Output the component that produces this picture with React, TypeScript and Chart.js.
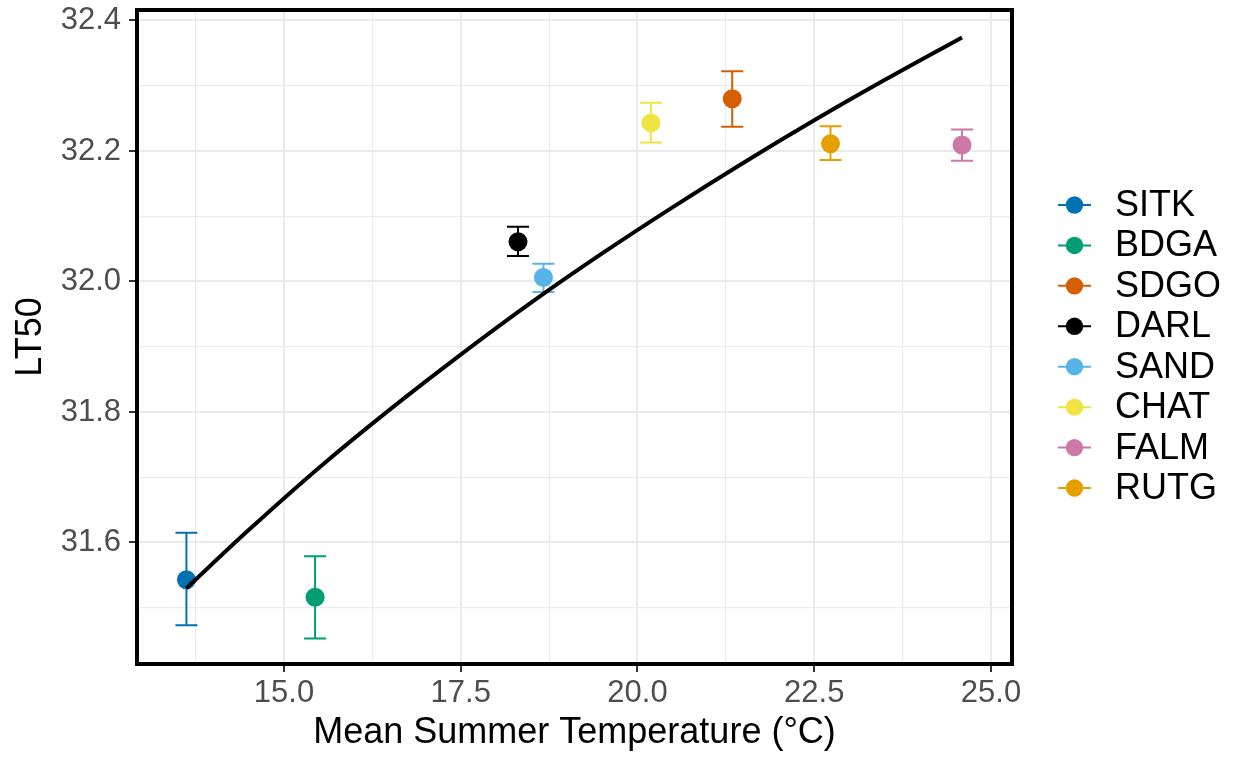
import React, { useEffect, useRef } from "react";
import { Chart, registerables } from "chart.js";

Chart.register(...registerables);

const stations = ["SITK", "BDGA", "SDGO", "DARL", "SAND", "CHAT", "FALM", "RUTG"];
const stationColors = ["#0072B2", "#009E73", "#D55E00", "#000000", "#56B4E9", "#F0E442", "#CC79A7", "#E69F00"];
const meanTemp = [13.62, 15.44, 21.34, 18.31, 18.67, 20.19, 24.59, 22.73];
const lt50 = [31.543, 31.516, 32.28, 32.061, 32.006, 32.243, 32.209, 32.211];
const lt50Low = [31.473, 31.453, 32.237, 32.039, 31.984, 32.213, 32.185, 32.186];
const lt50High = [31.615, 31.579, 32.322, 32.084, 32.027, 32.274, 32.233, 32.238];

const fitTemp = [13.62, 14.5, 15.5, 16.5, 17.5, 18.5, 19.5, 20.5, 21.5, 22.5, 23.5, 24.59];
const fitLT50 = [31.53, 31.619, 31.715, 31.804, 31.888, 31.968, 32.043, 32.114, 32.182, 32.247, 32.309, 32.374];

const xTicks = [13.75, 15, 16.25, 17.5, 18.75, 20, 21.25, 22.5, 23.75, 25];
const xMajor = [15, 17.5, 20, 22.5, 25];
const yTicks = [31.5, 31.6, 31.7, 31.8, 31.9, 32.0, 32.1, 32.2, 32.3, 32.4];
const yMajor = [31.6, 31.8, 32.0, 32.2, 32.4];

const xTitle = "Mean Summer Temperature (°C)";
const yTitle = "LT50";

const FONT = "'Liberation Sans', Arial, Helvetica, sans-serif";

const isIn = (arr: number[], v: number) => arr.some((m) => Math.abs(m - v) < 1e-6);

const errorBarPlugin = {
  id: "errorBars",
  beforeDatasetsDraw(chart: any) {
    const { ctx } = chart;
    const xs = chart.scales.x;
    const ys = chart.scales.y;
    ctx.save();
    ctx.lineWidth = 2;
    ctx.lineCap = "butt";
    for (let i = 0; i < stations.length; i++) {
      const px = xs.getPixelForValue(meanTemp[i]);
      const lo = ys.getPixelForValue(lt50Low[i]);
      const hi = ys.getPixelForValue(lt50High[i]);
      ctx.strokeStyle = stationColors[i];
      ctx.beginPath();
      ctx.moveTo(px, lo);
      ctx.lineTo(px, hi);
      ctx.moveTo(px - 11, lo);
      ctx.lineTo(px + 11, lo);
      ctx.moveTo(px - 11, hi);
      ctx.lineTo(px + 11, hi);
      ctx.stroke();
    }
    ctx.restore();
  },
};

const borderLegendPlugin = {
  id: "borderLegend",
  afterDraw(chart: any) {
    const { ctx, chartArea } = chart;
    ctx.save();
    ctx.strokeStyle = "#000000";
    ctx.lineWidth = 4;
    ctx.strokeRect(chartArea.left, chartArea.top, chartArea.right - chartArea.left, chartArea.bottom - chartArea.top);

    // legend
    const rowTop = 205;
    const rowGap = 40.43;
    ctx.font = `36px ${FONT}`;
    ctx.textBaseline = "middle";
    ctx.textAlign = "left";
    for (let i = 0; i < stations.length; i++) {
      const y = rowTop + i * rowGap;
      ctx.strokeStyle = stationColors[i];
      ctx.lineWidth = 2;
      ctx.beginPath();
      ctx.moveTo(1058, y);
      ctx.lineTo(1091, y);
      ctx.stroke();
      ctx.fillStyle = stationColors[i];
      ctx.beginPath();
      ctx.arc(1074.5, y, 8.7, 0, Math.PI * 2);
      ctx.fill();
      ctx.fillStyle = "#000000";
      ctx.fillText(stations[i], 1115, y + 1);
    }
    ctx.restore();
  },
};

export default function App() {
  const canvasRef = useRef<HTMLCanvasElement | null>(null);

  useEffect(() => {
    const canvas = canvasRef.current;
    if (!canvas) return;

    const pointSets = stations.map((name, i) => ({
      label: name,
      data: [{ x: meanTemp[i], y: lt50[i] }],
      backgroundColor: stationColors[i],
      borderColor: stationColors[i],
      borderWidth: 0,
      pointRadius: 9.5,
      pointHoverRadius: 9.5,
      showLine: false,
      order: 1,
    }));

    const fitSet = {
      label: "fit",
      data: fitTemp.map((t, i) => ({ x: t, y: fitLT50[i] })),
      borderColor: "#000000",
      backgroundColor: "#000000",
      borderWidth: 4,
      pointRadius: 0,
      showLine: true,
      cubicInterpolationMode: "monotone",
      order: 0,
    };

    const chart = new Chart(canvas, {
      type: "scatter",
      data: { datasets: [fitSet as any, ...pointSets] },
      options: {
        animation: false,
        responsive: false,
        devicePixelRatio: 1,
        events: [],
        layout: { padding: { top: 10, right: 226, left: 0, bottom: 0 } },
        plugins: {
          legend: { display: false },
          tooltip: { enabled: false },
        },
        scales: {
          x: {
            type: "linear",
            min: 12.921,
            max: 25.297,
            afterBuildTicks: (scale: any) => {
              scale.ticks = xTicks.map((v) => ({ value: v }));
            },
            afterFit: (scale: any) => {
              scale.height = 93;
              scale.paddingLeft = 0;
              scale.paddingRight = 0;
            },
            ticks: {
              autoSkip: false,
              maxRotation: 0,
              padding: 3,
              color: "#4D4D4D",
              font: { family: FONT, size: 31 },
              callback: (v: any) => (isIn(xMajor, Number(v)) ? Number(v).toFixed(1) : ""),
            },
            grid: {
              color: "#EBEBEB",
              lineWidth: (c: any) => (isIn(xMajor, c.tick?.value) ? 2 : 1.2),
              tickColor: (c: any) => (isIn(xMajor, c.tick?.value) ? "#333333" : "rgba(0,0,0,0)"),
              tickLength: 8,
              tickWidth: 2,
            },
            border: { display: false },
            title: {
              display: true,
              text: xTitle,
              color: "#000000",
              font: { family: FONT, size: 36 },
              padding: { top: 0, bottom: 2 },
            },
          },
          y: {
            type: "linear",
            min: 31.4138,
            max: 32.416,
            afterBuildTicks: (scale: any) => {
              scale.ticks = yTicks.map((v) => ({ value: v }));
            },
            afterFit: (scale: any) => {
              scale.width = 137;
              scale.paddingTop = 0;
              scale.paddingBottom = 0;
            },
            ticks: {
              autoSkip: false,
              padding: 8,
              color: "#4D4D4D",
              font: { family: FONT, size: 31 },
              callback: (v: any) => (isIn(yMajor, Number(v)) ? Number(v).toFixed(1) : ""),
            },
            grid: {
              color: "#EBEBEB",
              lineWidth: (c: any) => (isIn(yMajor, c.tick?.value) ? 2 : 1.2),
              tickColor: (c: any) => (isIn(yMajor, c.tick?.value) ? "#333333" : "rgba(0,0,0,0)"),
              tickLength: 8,
              tickWidth: 2,
            },
            border: { display: false },
            title: {
              display: true,
              text: yTitle,
              color: "#000000",
              font: { family: FONT, size: 36 },
              padding: { top: 9, bottom: 0 },
            },
          },
        },
      },
      plugins: [errorBarPlugin, borderLegendPlugin],
    });

    return () => {
      chart.destroy();
    };
  }, []);

  return (
    <div style={{ position: "absolute", left: 0, top: 0, width: 1238, height: 757, background: "#ffffff" }}>
      <canvas ref={canvasRef} width={1238} height={757} style={{ display: "block", width: 1238, height: 757 }} />
    </div>
  );
}
